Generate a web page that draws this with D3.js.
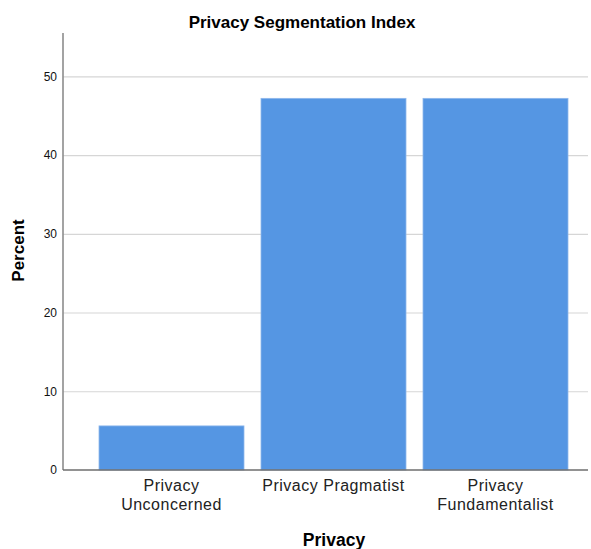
<!DOCTYPE html>
<html>
<head>
<meta charset="utf-8">
<script src="https://cdn.jsdelivr.net/npm/d3@7"></script>
<style>
 body { margin:0; background:#fff; }
 text { font-family: "Liberation Sans", Arial, sans-serif; }
</style>
</head>
<body>
<div id="chart"></div>
<script>
// data
const categories = ['Privacy Unconcerned', 'Privacy Pragmatist', 'Privacy Fundamentalist'];
const categoryLines = [['Privacy', 'Unconcerned'], ['Privacy Pragmatist'], ['Privacy', 'Fundamentalist']];
const percents = [5.6, 47.2, 47.2];
const yTicks = [0, 10, 20, 30, 40, 50];

const width = 591, height = 549;
const x0 = 63, yBottom = 470, yTop = 33;

const svg = d3.select('#chart').append('svg')
    .attr('width', width)
    .attr('height', height);

// scales
const xScale = d3.scaleBand()
    .domain(categories)
    .range([90.5, 576.5])
    .paddingInner(0.105)
    .paddingOuter(0.0525);

const yScale = d3.scaleLinear()
    .domain([0, 55.5])
    .range([yBottom, yTop]);

// grid lines
const grid = svg.append('g')
    .attr('class', 'grid')
    .call(d3.axisLeft(yScale).tickValues(yTicks.filter(d => d > 0)).tickSize(-(588 - x0)).tickFormat(''))
    .attr('transform', `translate(${x0},0)`);
grid.select('.domain').remove();
grid.selectAll('line').attr('stroke', '#d6d6d6').attr('stroke-width', 1.2);

// bars
svg.append('g')
    .selectAll('rect')
    .data(percents)
    .join('rect')
    .attr('x', (d, i) => xScale(categories[i]))
    .attr('width', xScale.bandwidth())
    .attr('y', d => yScale(d))
    .attr('height', d => yScale(0) - yScale(d))
    .attr('fill', '#5596e3')
    .attr('stroke', '#8fb8ec')
    .attr('stroke-width', 0.8);

// y axis
const yAxis = svg.append('g')
    .attr('transform', `translate(${x0},0)`)
    .call(d3.axisLeft(yScale).tickValues(yTicks).tickSize(0).tickPadding(6));
yAxis.select('.domain').remove();
yAxis.selectAll('text')
    .style('font-size', '12px')
    .attr('fill', '#111');

svg.append('line')
    .attr('x1', x0).attr('x2', x0)
    .attr('y1', yTop).attr('y2', yBottom)
    .attr('stroke', '#8c8c8c')
    .attr('stroke-width', 1.6);

// x axis baseline
svg.append('line')
    .attr('x1', x0).attr('x2', 588)
    .attr('y1', yBottom).attr('y2', yBottom)
    .attr('stroke', '#6e6e6e')
    .attr('stroke-width', 1.6);

// category labels
const labels = svg.append('g')
    .selectAll('text')
    .data(categoryLines)
    .join('text')
    .attr('text-anchor', 'middle')
    .attr('fill', '#222')
    .style('font-size', '16px')
    .style('letter-spacing', '0.5px');

labels.each(function(lines, i) {
  const cx = xScale(categories[i]) + xScale.bandwidth() / 2;
  d3.select(this).selectAll('tspan')
      .data(lines)
      .join('tspan')
      .attr('x', cx)
      .attr('y', (d, j) => 491 + j * 18.5)
      .text(d => d);
});

// titles
svg.append('text')
    .attr('x', 302)
    .attr('y', 28)
    .attr('text-anchor', 'middle')
    .style('font-size', '17px')
    .style('font-weight', 'bold')
    .text('Privacy Segmentation Index');

svg.append('text')
    .attr('x', 334)
    .attr('y', 546)
    .attr('text-anchor', 'middle')
    .style('font-size', '17.5px')
    .style('font-weight', 'bold')
    .text('Privacy');

svg.append('text')
    .attr('transform', 'translate(24,250.5) rotate(-90)')
    .attr('text-anchor', 'middle')
    .style('font-size', '17px')
    .style('font-weight', 'bold')
    .text('Percent');
</script>
</body>
</html>
